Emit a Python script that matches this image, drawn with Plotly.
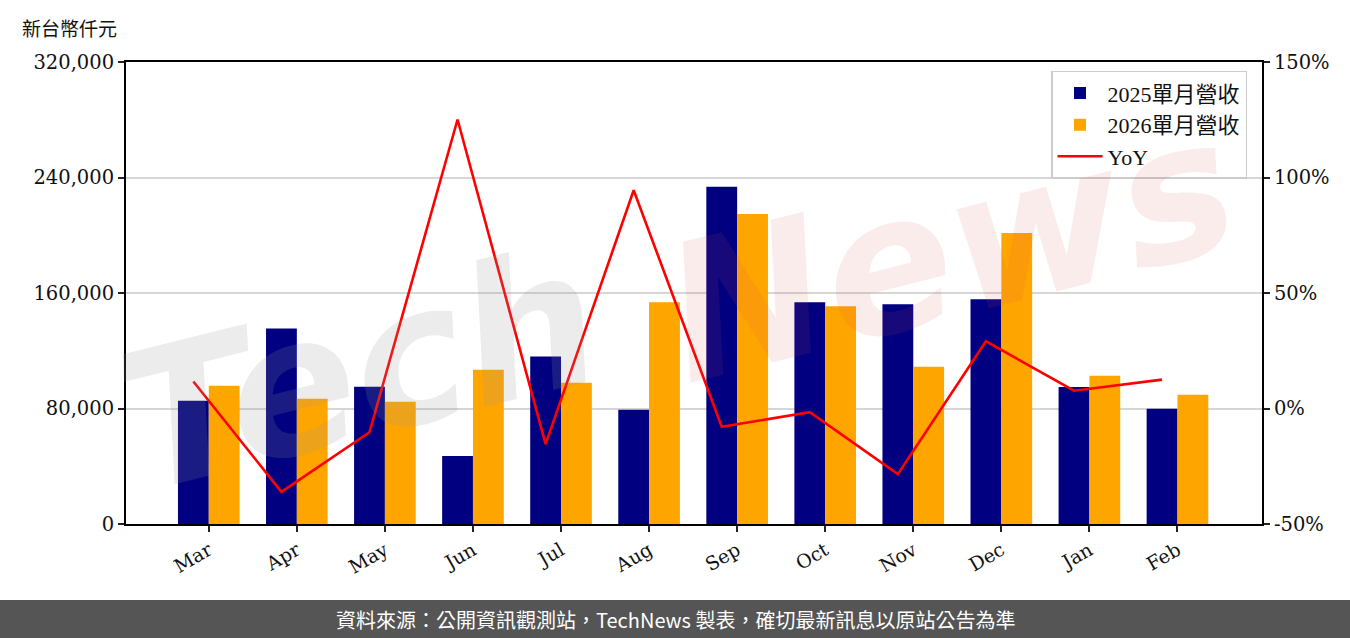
import plotly.graph_objects as go

months = ["Mar", "Apr", "May", "Jun", "Jul", "Aug", "Sep", "Oct", "Nov", "Dec", "Jan", "Feb"]
rev_2025 = [85360, 135440, 95100, 47100, 115970, 79100, 233530, 153530, 152140, 155620, 94890, 79790]
rev_2026 = [95790, 86750, 84660, 106920, 97880, 153530, 214750, 150750, 109000, 201530, 102750, 89530]
yoy_pct = [11.7, -36.1, -10.3, 125.1, -15.4, 94.5, -7.9, -1.6, -28.4, 29.1, 7.7, 12.5]
left_ticks = [0, 80000, 160000, 240000, 320000]
right_ticks = [-50, 0, 50, 100, 150]

BW = 0.35
idx = list(range(len(months)))

SERIF = "DejaVu Serif, Noto Sans CJK TC"
LEG = "Liberation Serif, Noto Sans CJK TC"

fig = go.Figure()
fig.add_trace(go.Bar(x=idx, y=rev_2025, name="2025單月營收", marker_color="#000080",
                     width=BW, offset=-BW, marker_line_width=0))
fig.add_trace(go.Bar(x=idx, y=rev_2026, name="2026單月營收", marker_color="#FFA500",
                     width=BW, offset=0, marker_line_width=0))
fig.add_trace(go.Scatter(x=[i - BW / 2 for i in idx], y=yoy_pct, name="YoY", mode="lines",
                         line=dict(color="#FF0000", width=2.6), yaxis="y2"))

fig.update_layout(
    width=1350, height=638,
    margin=dict(l=126, r=88, t=62, b=114),
    paper_bgcolor="white", plot_bgcolor="white",
    barmode="overlay",
    showlegend=True,
    legend=dict(x=0.9868, xanchor="right", y=0.981, yanchor="top",
                bgcolor="white", bordercolor="#cccccc", borderwidth=1.5,
                font=dict(family=LEG, size=22, color="#111"), itemwidth=45,
                tracegroupgap=0),
    xaxis=dict(range=[-0.94, 11.96], tickmode="array", tickvals=idx, ticktext=months,
               tickangle=-30, ticks="outside", ticklen=6, tickwidth=2, tickcolor="#222",
               showline=True, linecolor="black", linewidth=2, mirror=True,
               showgrid=False, zeroline=False,
               tickfont=dict(family=SERIF, size=19, color="#111")),
    yaxis=dict(range=[0, 320000], tickmode="array", tickvals=left_ticks,
               ticktext=[f"{v:,}" for v in left_ticks],
               ticks="outside", ticklen=6, tickwidth=2, tickcolor="#222",
               showline=True, linecolor="black", linewidth=2,
               showgrid=True, gridcolor="#d6d6d6", gridwidth=1.5, zeroline=False,
               tickfont=dict(family=SERIF, size=19.5, color="#111")),
    yaxis2=dict(range=[-50, 150], overlaying="y", side="right", tickmode="array",
                tickvals=right_ticks, ticktext=[f"{v}%" for v in right_ticks],
                ticks="outside", ticklen=6, tickwidth=2, tickcolor="#222",
                showline=True, linecolor="black", linewidth=2,
                showgrid=False, zeroline=False,
                tickfont=dict(family=SERIF, size=19.5, color="#111")),
)

# footer band
fig.add_shape(type="rect", xref="paper", yref="paper",
              x0=-0.12, x1=1.09, y0=-0.26, y1=(524 - 600) / 462,
              fillcolor="#555555", line_width=0, layer="below")
fig.add_annotation(xref="paper", yref="paper", x=(675 - 126) / 1136, y=(524 - 619) / 462,
                   text="資料來源：公開資訊觀測站，TechNews 製表，確切最新訊息以原站公告為準",
                   showarrow=False, font=dict(family="Noto Sans CJK TC", size=20, color="white"),
                   xanchor="center", yanchor="middle")
# unit label
fig.add_annotation(xref="paper", yref="paper", x=(20 - 126) / 1136, y=(524 - 27) / 462,
                   text="新台幣仟元", showarrow=False,
                   font=dict(family="Noto Sans CJK TC", size=19, color="#111"),
                   xanchor="left", yanchor="middle")
# watermark
fig.add_annotation(xref="paper", yref="paper", x=(360 - 126) / 1136, y=(524 - 370) / 462,
                   text="<b><i>Tech</i></b>", showarrow=False, textangle=-14,
                   font=dict(family="DejaVu Sans", size=190, color="rgba(150,150,150,0.18)"),
                   xanchor="center", yanchor="middle")
fig.add_annotation(xref="paper", yref="paper", x=(950 - 126) / 1136, y=(524 - 250) / 462,
                   text="<b><i>News</i></b>", showarrow=False, textangle=-14,
                   font=dict(family="DejaVu Sans", size=190, color="rgba(220,80,80,0.11)"),
                   xanchor="center", yanchor="middle")

fig.write_html("out.html", config={"displayModeBar": False},
               post_script="document.body.style.margin='0px';document.body.style.overflow='hidden';")
